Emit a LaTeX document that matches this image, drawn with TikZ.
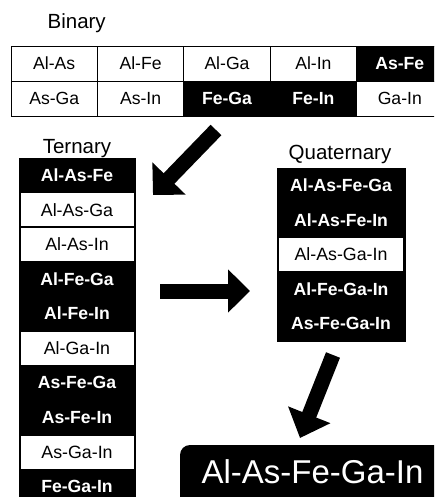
\documentclass[tikz,border=0pt]{standalone}
\usepackage{fontspec}
\setmainfont{Liberation Sans}
\usetikzlibrary{arrows.meta}
\newcommand\fsz[1]{\fontsize{#1}{#1}\selectfont}
\begin{document}
\begin{tikzpicture}[x=1pt,y=-1pt,
  cell/.style={draw=black, line width=0.8pt, minimum width=86.4pt, minimum height=35pt, inner sep=0pt, font=\fsz{17.6}},
  dark/.style={fill=black, text=white, font=\fsz{17.6}\bfseries},
  light/.style={fill=white, text=black},
  ttl/.style={font=\fsz{20.5}, anchor=base, inner sep=0pt},
  col/.style={fill=black, draw=black, inner sep=0pt},
  row/.style={inner sep=0pt, minimum height=34.6pt, font=\fsz{17.6}\bfseries, text=white},
  wrow/.style={inner sep=0pt, minimum height=33pt, font=\fsz{17.8}, fill=white, text=black},
  big/.style={line width=15pt},
]
\useasboundingbox (0,0) rectangle (434,497);
\clip (0,0) rectangle (434,497);

% Binary
\node[ttl] (binl) at (76.7,29) {Binary};
\node[cell,light] (b1) at (54.2,63.5) {Al-As};
\node[cell,light] (b2) at (140.6,63.5) {Al-Fe};
\node[cell,light] (b3) at (227,63.5) {Al-Ga};
\node[cell,light] (b4) at (313.4,63.5) {Al-In};
\node[cell,dark] (b5) at (399.8,63.5) {As-Fe};
\node[cell,light] (b6) at (54.2,98.5) {As-Ga};
\node[cell,light] (b7) at (140.6,98.5) {As-In};
\node[cell,dark] (b8) at (227,98.5) {Fe-Ga};
\node[cell,dark] (b9) at (313.4,98.5) {Fe-In};
\node[cell,light] (b10) at (399.8,98.5) {Ga-In};

% Ternary
\node[ttl] (terl) at (77,153.3) {Ternary};
\node[col, minimum width=116pt, minimum height=346pt] (ter) at (77,331) {};
\node[row] (t1) at (77,175.3) {Al-As-Fe};
\node[wrow, minimum width=113pt] (t2) at (77,209.9) {Al-As-Ga};
\node[wrow, minimum width=113pt] (t3) at (77,244.5) {Al-As-In};
\node[row] (t4) at (77,279.1) {Al-Fe-Ga};
\node[row] (t5) at (77,313.7) {Al-Fe-In};
\node[wrow, minimum width=113pt] (t6) at (77,348.3) {Al-Ga-In};
\node[row] (t7) at (77,382.9) {As-Fe-Ga};
\node[row] (t8) at (77,417.5) {As-Fe-In};
\node[wrow, minimum width=113pt] (t9) at (77,452.1) {As-Ga-In};
\node[row] (t10) at (77,486.7) {Fe-Ga-In};

% Quaternary
\node[ttl] (qual) at (340,160) {Quaternary};
\node[col, minimum width=128pt, minimum height=173pt] (qua) at (341,254.5) {};
\node[row] (q1) at (341,185.3) {Al-As-Fe-Ga};
\node[row] (q2) at (341,219.9) {Al-As-Fe-In};
\node[wrow, minimum width=124pt] (q3) at (341,254.5) {Al-As-Ga-In};
\node[row] (q4) at (341,289.1) {Al-Fe-Ga-In};
\node[row] (q5) at (341,323.7) {As-Fe-Ga-In};

% Final
\node[fill=black, rounded corners=10pt, minimum width=290pt, minimum height=90pt, inner sep=0pt] (fin) at (325,490) {};
\node[font=\fsz{33}, text=white, anchor=base, inner sep=0pt] (fint) at (312.5,483.5) {Al-As-Fe-Ga-In};

% Arrows
\coordinate (a1s) at (216,130);
\coordinate (a1e) at (153,195);
\coordinate (a2s) at (160,291);
\coordinate (a2e) at (250,291);
\coordinate (a3s) at (333,355);
\coordinate (a3e) at (300,438);
\draw[big, -{Triangle[length=23pt,width=45pt]}] (a1s) -- (a1e);
\draw[big, -{Triangle[length=22pt,width=42pt]}] (a2s) -- (a2e);
\draw[big, -{Triangle[length=25pt,width=44pt]}] (a3s) -- (a3e);
\end{tikzpicture}
\end{document}
